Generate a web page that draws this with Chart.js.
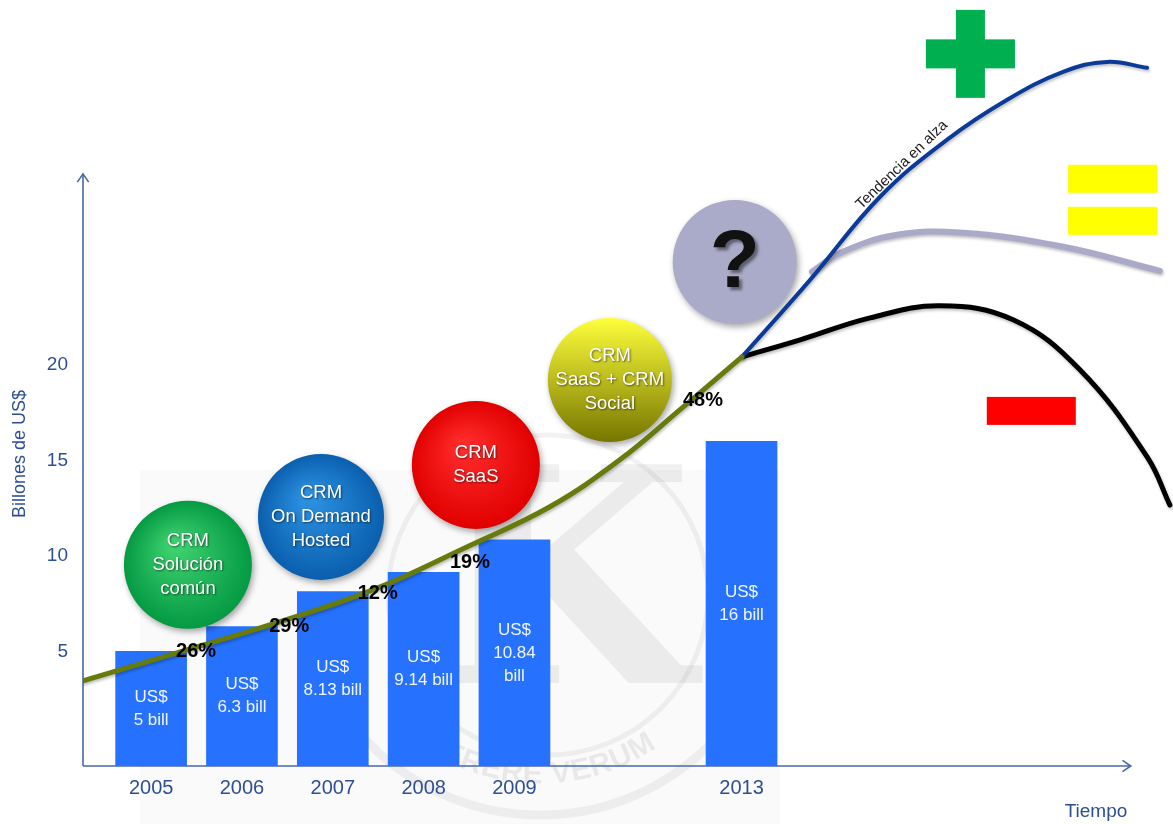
<!DOCTYPE html>
<html>
<head>
<meta charset="utf-8">
<title>Evolución del mercado CRM</title>
<script src="https://cdn.jsdelivr.net/npm/chart.js@4.4.1/dist/chart.umd.min.js"></script>
<style>
  html, body { margin: 0; padding: 0; background: #fff; }
  canvas { display: block; }
</style>
</head>
<body>
<canvas id="crmChart" width="1173" height="824"></canvas>
<script>
// Two category slots per year; the 2010-2012 stretch is squeezed before 2013
const periods = ['', '2005', '', '2006', '', '2007', '', '2008', '', '2009',
                 '', '', '', '', '2013', '', '', '', '', '', '', '', '', ''];
const years = ['2005', '2006', '2007', '2008', '2009', '2013'];
const revenue = [5, 6.3, 8.13, 9.14, 10.84, 16];   // billones de US$
const yTicks = [5, 10, 15, 20];

// Growth curve (slot position, billions)
const growthX = [-0.5, 1.64, 3.68, 5.88, 7.95, 9.78, 11.32, 12.64, 14.01];
const growthY = [3.46, 4.97, 6.44, 8.22, 10.47, 12.57, 15.03, 17.64, 20.42];

// Year-on-year growth labels sitting on the curve
const rates = ['26%', '29%', '12%', '19%', '48%'];
const rateX = [1.99, 4.04, 5.99, 8.02, 13.15];
const rateY = [4.97, 6.28, 8.01, 9.63, 18.12];

// CRM stages
const stages = [['CRM', 'Solución', 'común'], ['CRM', 'On Demand', 'Hosted'],
                ['CRM', 'SaaS'], ['CRM', 'SaaS + CRM', 'Social'], ['?']];
const stageX = [1.81, 4.74, 8.15, 11.10, 13.85];
const stageY = [9.53, 12.04, 14.76, 19.21, 25.39];
const stageR = [64, 63, 64, 62, 62];

// Scenarios after 2013
const upX = [14.01, 15.51, 17.05, 18.52, 19.84, 21.08, 22.05, 22.93];
const upY = [20.42, 24.45, 28.80, 31.78, 33.87, 35.34, 35.86, 35.55];
const flatX = [15.55, 16.17, 17.42, 18.87, 21.08, 23.21];
const flatY = [24.87, 25.86, 26.81, 26.91, 26.18, 24.92];
const downX = [14.01, 15.29, 16.83, 18.37, 19.98, 21.45, 22.93, 23.43];
const downY = [20.42, 21.31, 22.46, 23.09, 22.36, 19.74, 15.18, 12.67];

const Y_MIN = -1;
const Y_MAX = 39.1;
const FONT = "'Liberation Sans', Arial, sans-serif";
const AXIS_BLUE = '#2e4f96';

const stageColors = [
  ['#3ccf6e', '#049a43'],
  ['#2b8fe0', '#0a5fae'],
  ['#ff2a2a', '#e10000'],
  ['#ffff3c', '#767600'],
  ['#a9abc8', '#a9abc8']
];

const toPoints = (xs, ys) => xs.map((x, i) => ({ x: x, y: ys[i] }));

function stageFill(c) {
  const chart = c.chart;
  const cols = stageColors[c.dataIndex] || stageColors[0];
  if (!chart.chartArea || c.type !== 'data') return cols[1];
  const d = c.raw;
  const x = chart.scales.x2.getPixelForValue(d.x);
  const y = chart.scales.y.getPixelForValue(d.y);
  const r = d.r;
  let g;
  if (c.dataIndex === 3) {
    g = chart.ctx.createLinearGradient(x, y - r, x, y + r);
  } else {
    g = chart.ctx.createRadialGradient(x - r * 0.2, y - r * 0.3, r * 0.1, x, y, r);
  }
  g.addColorStop(0, cols[0]);
  g.addColorStop(1, cols[1]);
  return g;
}

function arrowLine(ctx, x1, y1, x2, y2) {
  ctx.beginPath();
  ctx.moveTo(x1, y1);
  ctx.lineTo(x2, y2);
  ctx.stroke();
  const a = Math.atan2(y2 - y1, x2 - x1);
  ctx.beginPath();
  ctx.moveTo(x2 - 10 * Math.cos(a - 0.6), y2 - 10 * Math.sin(a - 0.6));
  ctx.lineTo(x2, y2);
  ctx.lineTo(x2 - 10 * Math.cos(a + 0.6), y2 - 10 * Math.sin(a + 0.6));
  ctx.stroke();
}

function drawWatermark(ctx) {
  ctx.save();
  ctx.fillStyle = '#fafafa';
  ctx.fillRect(140, 470, 640, 354);
  const cx = 540, cy = 575;
  ctx.strokeStyle = 'rgba(0,0,0,0.05)';
  ctx.lineWidth = 9;
  ctx.beginPath();
  ctx.arc(cx, cy, 240, 0.12 * Math.PI, 0.88 * Math.PI);
  ctx.stroke();
  ctx.lineWidth = 5;
  ctx.beginPath();
  ctx.arc(cx + 8, cy + 20, 160, 0, Math.PI * 2);
  ctx.stroke();
  ctx.fillStyle = 'rgba(0,0,0,0.06)';
  ctx.font = 'bold 300px "DejaVu Serif", serif';
  ctx.textAlign = 'center';
  ctx.textBaseline = 'middle';
  ctx.fillText('K', cx + 23, cy + 30);
  // motto along the lower rim, one glyph at a time
  const motto = 'QUAERERE VERUM';
  ctx.font = 'bold 30px ' + FONT;
  ctx.fillStyle = 'rgba(0,0,0,0.07)';
  const R = 200;
  const total = ctx.measureText(motto).width / R;
  let ang = Math.PI / 2 + total / 2 + 0.12;
  for (const ch of motto) {
    const w = ctx.measureText(ch).width / R;
    ang -= w / 2;
    ctx.save();
    ctx.translate(cx + R * Math.cos(ang), cy + R * Math.sin(ang));
    ctx.rotate(ang - Math.PI / 2);
    ctx.fillText(ch, 0, 0);
    ctx.restore();
    ang -= w / 2;
  }
  ctx.restore();
}

const decor = {
  id: 'decor',
  beforeDraw(chart) {
    const ctx = chart.ctx;
    ctx.save();
    ctx.fillStyle = '#ffffff';
    ctx.fillRect(0, 0, chart.width, chart.height);
    ctx.restore();
    drawWatermark(ctx);
  },
  beforeDatasetsDraw(chart) {
    const ctx = chart.ctx;
    const y = chart.scales.y, x2 = chart.scales.x2;
    const left = chart.chartArea.left, bottom = chart.chartArea.bottom;
    ctx.save();
    ctx.strokeStyle = '#4868aa';
    ctx.lineWidth = 1.6;
    arrowLine(ctx, left, bottom, left, y.getPixelForValue(30));
    arrowLine(ctx, left, bottom, x2.getPixelForValue(22.57), bottom);
    ctx.restore();
  },
  beforeDatasetDraw(chart, args) {
    const ds = chart.data.datasets[args.index];
    const ctx = chart.ctx;
    ctx.save();
    if (ds.type === 'bubble') {
      ctx.shadowColor = 'rgba(0,0,0,0.35)';
      ctx.shadowBlur = 6;
      ctx.shadowOffsetX = 2;
      ctx.shadowOffsetY = 3;
    } else if (ds.type === 'line') {
      ctx.shadowColor = 'rgba(0,0,0,0.25)';
      ctx.shadowBlur = 3;
      ctx.shadowOffsetX = 1;
      ctx.shadowOffsetY = 2;
    }
  },
  afterDatasetDraw(chart) {
    chart.ctx.restore();
  },
  afterDatasetsDraw(chart) {
    const ctx = chart.ctx;
    const x2 = chart.scales.x2, y = chart.scales.y;
    ctx.save();
    ctx.textAlign = 'center';
    ctx.textBaseline = 'middle';

    // values inside the bars
    const barMeta = chart.getDatasetMeta(0);
    barMeta.data.forEach((bar, i) => {
      const s = String(revenue[i]);
      const lines = s.length > 4 ? ['US$', s, 'bill'] : ['US$', s + ' bill'];
      const cy = (bar.y + bar.base) / 2;
      ctx.font = '17px ' + FONT;
      ctx.fillStyle = 'rgba(255,255,255,0.93)';
      lines.forEach((t, k) => {
        ctx.fillText(t, bar.x, cy + (k - (lines.length - 1) / 2) * 23);
      });
    });

    // stage captions
    const bubMeta = chart.getDatasetMeta(chart.data.datasets.findIndex(d => d.type === 'bubble'));
    bubMeta.data.forEach((pt, i) => {
      const lines = stages[i];
      ctx.save();
      if (lines[0] === '?') {
        ctx.font = 'bold 82px ' + FONT;
        ctx.fillStyle = '#111';
        ctx.shadowColor = 'rgba(0,0,0,0.45)';
        ctx.shadowBlur = 3;
        ctx.shadowOffsetX = 3;
        ctx.shadowOffsetY = 3;
        ctx.fillText('?', pt.x, pt.y + 2);
      } else {
        ctx.font = '18.5px ' + FONT;
        ctx.fillStyle = '#ffffff';
        ctx.shadowColor = 'rgba(0,0,0,0.55)';
        ctx.shadowBlur = 2;
        ctx.shadowOffsetX = 1;
        ctx.shadowOffsetY = 1;
        lines.forEach((t, k) => {
          ctx.fillText(t, pt.x, pt.y + (k - (lines.length - 1) / 2) * 24);
        });
      }
      ctx.restore();
    });

    // growth rates
    ctx.font = 'bold 20px ' + FONT;
    ctx.fillStyle = '#000';
    rates.forEach((t, i) => {
      ctx.fillText(t, x2.getPixelForValue(rateX[i]), y.getPixelForValue(rateY[i]));
    });

    // label along the upward scenario
    ctx.save();
    ctx.translate(x2.getPixelForValue(17.53), y.getPixelForValue(30.47));
    ctx.rotate(-44 * Math.PI / 180);
    ctx.font = '15px ' + FONT;
    ctx.fillStyle = '#1a1a1a';
    ctx.fillText('Tendencia en alza', 0, 0);
    ctx.restore();

    // scenario signs: plus, equal, minus
    const px = v => x2.getPixelForValue(v);
    const py = v => y.getPixelForValue(v);
    ctx.fillStyle = '#00b050';
    let cx = px(19.04), cy = py(36.28);
    ctx.fillRect(cx - 44.5, cy - 14.5, 89, 29);
    ctx.fillRect(cx - 14.5, cy - 44, 29, 88);
    ctx.fillStyle = '#ffff00';
    cx = px(22.17); cy = py(28.64);
    ctx.fillRect(cx - 44.5, cy - 35, 89, 28);
    ctx.fillRect(cx - 44.5, cy + 7, 89, 28);
    ctx.fillStyle = '#ff0000';
    cx = px(20.38); cy = py(17.59);
    ctx.fillRect(cx - 44.5, cy - 14, 89, 28);

    // axis titles
    ctx.fillStyle = AXIS_BLUE;
    ctx.font = '19px ' + FONT;
    ctx.fillText('Tiempo', 1096, 812);
    ctx.save();
    ctx.translate(20, 454);
    ctx.rotate(-Math.PI / 2);
    ctx.font = '18px ' + FONT;
    ctx.fillText('Billones de US$', 0, 0);
    ctx.restore();

    ctx.restore();
  }
};

const lineStyle = (color, width) => ({
  type: 'line', xAxisID: 'x2', borderColor: color, borderWidth: width,
  pointRadius: 0, tension: 0.4, fill: false, borderCapStyle: 'round'
});

new Chart(document.getElementById('crmChart'), {
  data: {
    labels: periods,
    datasets: [
      {
        type: 'bar', label: 'Mercado CRM',
        data: years.map((yr, i) => ({ x: yr, y: revenue[i] })),
        backgroundColor: '#2672fe', barThickness: 71, grouped: false,
        base: Y_MIN, order: 5
      },
      Object.assign(lineStyle('#677b0c', 5), { label: 'Crecimiento', data: toPoints(growthX, growthY), order: 1 }),
      Object.assign(lineStyle('#0b3b96', 4), { label: 'Alza', data: toPoints(upX, upY), order: 1 }),
      Object.assign(lineStyle('#a8aac8', 6), { label: 'Estable', data: toPoints(flatX, flatY), order: 2 }),
      Object.assign(lineStyle('#000000', 5), { label: 'Baja', data: toPoints(downX, downY), order: 2 }),
      {
        type: 'bubble', label: 'Etapas', xAxisID: 'x2',
        data: stageX.map((x, i) => ({ x: x, y: stageY[i], r: stageR[i] })),
        backgroundColor: stageFill, borderWidth: 0, order: 3
      },
      {
        type: 'scatter', label: 'Tasas', xAxisID: 'x2',
        data: toPoints(rateX, rateY), pointRadius: 0, order: 0
      }
    ]
  },
  options: {
    responsive: false,
    animation: false,
    events: [],
    layout: { padding: 0, autoPadding: false },
    plugins: { legend: { display: false }, tooltip: { enabled: false } },
    scales: {
      x: {
        type: 'category', offset: true,
        grid: { display: false }, border: { display: false },
        ticks: { color: AXIS_BLUE, font: { family: FONT, size: 20 }, padding: 2,
                 autoSkip: false, maxRotation: 0 },
        afterFit(s) { s.height = 58; s.paddingLeft = 0; s.paddingRight = 0; }
      },
      x2: { type: 'linear', min: -0.5, max: 23.5, display: false },
      y: {
        type: 'linear', min: Y_MIN, max: Y_MAX,
        grid: { display: false, drawTicks: false }, border: { display: false },
        ticks: { color: AXIS_BLUE, font: { family: FONT, size: 19 }, padding: 15 },
        afterBuildTicks(s) { s.ticks = yTicks.map(v => ({ value: v })); },
        afterFit(s) { s.width = 83; s.paddingTop = 0; s.paddingBottom = 0; }
      }
    }
  },
  plugins: [decor]
});
</script>
</body>
</html>
